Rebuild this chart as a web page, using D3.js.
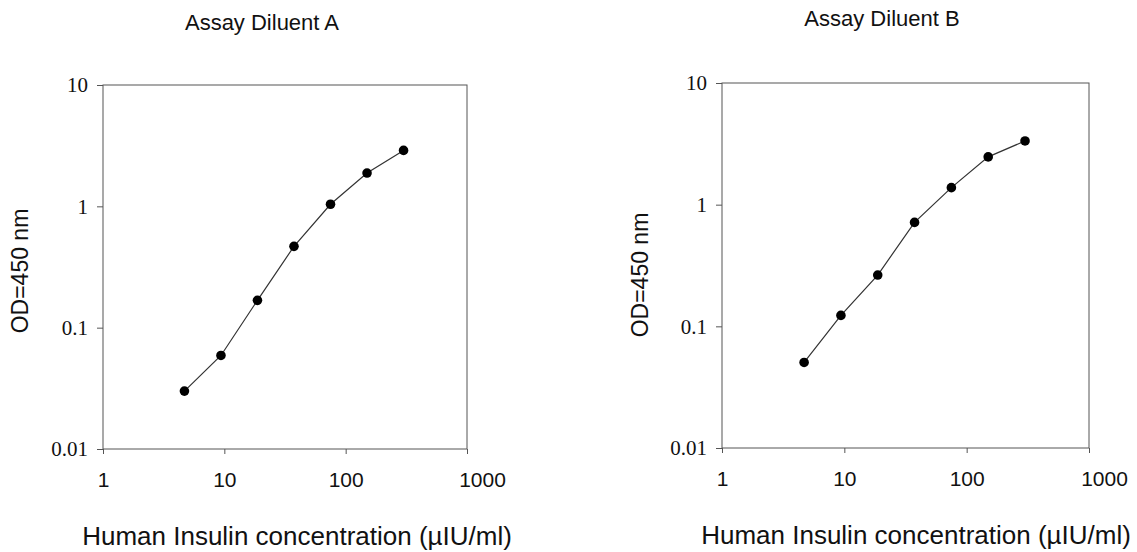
<!DOCTYPE html>
<html>
  <head>
    <title>Human Insulin standard curves</title>
    <script src="https://d3js.org/d3.v7.min.js"></script>
    <style>
      body { margin: 0; background: #fff; }
      .axis .domain { display: none; }
      .axis .tick line { stroke: #555; stroke-width: 1px; }
      .axis--y .tick text {
        font-family: "Liberation Serif", "Times New Roman", serif;
        font-size: 21px;
        fill: #111;
      }
      .axis--x .tick text {
        font-family: "Liberation Sans", Arial, sans-serif;
        font-size: 21px;
        fill: #111;
      }
      .frame { fill: none; stroke: #555; stroke-width: 1px; }
      .title, .axis__label {
        font-family: "Liberation Sans", Arial, sans-serif;
        fill: #111;
        text-anchor: middle;
      }
      .title { font-size: 22px; }
      .axis__label { font-size: 26px; }
      .axis__label--y { font-size: 23px; }
      .curve { fill: none; stroke: #333; stroke-width: 1.2px; }
    </style>
  </head>
  <body>
    <svg width="1137" height="552"></svg>
    <script>
      // concentrations in uIU/ml (x), OD at 450 nm (y)
      const concentrations = [4.69, 9.38, 18.75, 37.5, 75, 150, 300];
      const odDiluentA = [0.030, 0.059, 0.168, 0.468, 1.04, 1.88, 2.89];
      const odDiluentB = [0.0505, 0.123, 0.264, 0.715, 1.38, 2.47, 3.34];
      const xTicks = [1, 10, 100, 1000];
      const yTicks = [0.01, 0.1, 1, 10];
      const titles = ["Assay Diluent A", "Assay Diluent B"];
      const xLabel = "Human Insulin concentration (\u00b5IU/ml)";
      const yLabel = "OD=450 nm";

      function panel(selection, props){
        const left = props.left;
        const top = props.top;
        const innerWidth = props.innerWidth;
        const innerHeight = props.innerHeight;
        const data = props.values.map((v, i) => ({x: concentrations[i], y: v}));

        const xScale = d3.scaleLog()
          .domain([1, 1000])
          .range([0, innerWidth]);
        const yScale = d3.scaleLog()
          .domain([0.01, 10])
          .range([innerHeight, 0]);

        const g = selection.append("g")
          .attr("transform", `translate(${left}, ${top})`);

        g.append("rect")
          .attr("class", "frame")
          .attr("width", innerWidth)
          .attr("height", innerHeight);

        const xAxisG = g.append("g")
          .attr("class", "axis axis--x")
          .attr("transform", `translate(0, ${innerHeight})`)
          .call(d3.axisBottom(xScale)
            .tickValues(xTicks)
            .tickFormat(d3.format("d"))
            .tickSizeInner(5)
            .tickSizeOuter(0)
            .tickPadding(18));

        // the last label sits a little to the right of its tick in the original
        xAxisG.selectAll(".tick text")
          .filter(d => d === 1000)
            .attr("dx", 15);

        g.append("g")
          .attr("class", "axis axis--y")
          .call(d3.axisLeft(yScale)
            .tickValues(yTicks)
            .tickFormat(d => String(d))
            .tickSizeInner(6)
            .tickSizeOuter(0)
            .tickPadding(9));

        const line = d3.line()
          .x(d => xScale(d.x))
          .y(d => yScale(d.y));

        g.append("path")
          .datum(data)
          .attr("class", "curve")
          .attr("d", line);

        g.selectAll("circle")
          .data(data)
          .enter().append("circle")
            .attr("cx", d => xScale(d.x))
            .attr("cy", d => yScale(d.y))
            .attr("r", 4.8)
            .attr("fill", "#000");

        g.append("text")
          .attr("class", "title")
          .attr("x", props.titleX)
          .attr("y", props.titleY)
          .text(props.title);

        g.append("text")
          .attr("class", "axis__label")
          .attr("x", props.xLabelX)
          .attr("y", innerHeight + 96)
          .text(xLabel);

        g.append("text")
          .attr("class", "axis__label axis__label--y")
          .attr("transform", `translate(${props.yLabelX}, ${props.yLabelY}) rotate(-90)`)
          .text(yLabel);
      }

      function main(){
        const svg = d3.select("svg");

        svg.call(panel, {
          left: 103, top: 85, innerWidth: 364, innerHeight: 364,
          values: odDiluentA,
          title: titles[0], titleX: 159, titleY: -55,
          xLabelX: 194, yLabelX: -75, yLabelY: 186
        });

        svg.call(panel, {
          left: 722, top: 83, innerWidth: 367, innerHeight: 365,
          values: odDiluentB,
          title: titles[1], titleX: 160, titleY: -57,
          xLabelX: 194, yLabelX: -74, yLabelY: 192
        });
      }
      main();
    </script>
  </body>
</html>
